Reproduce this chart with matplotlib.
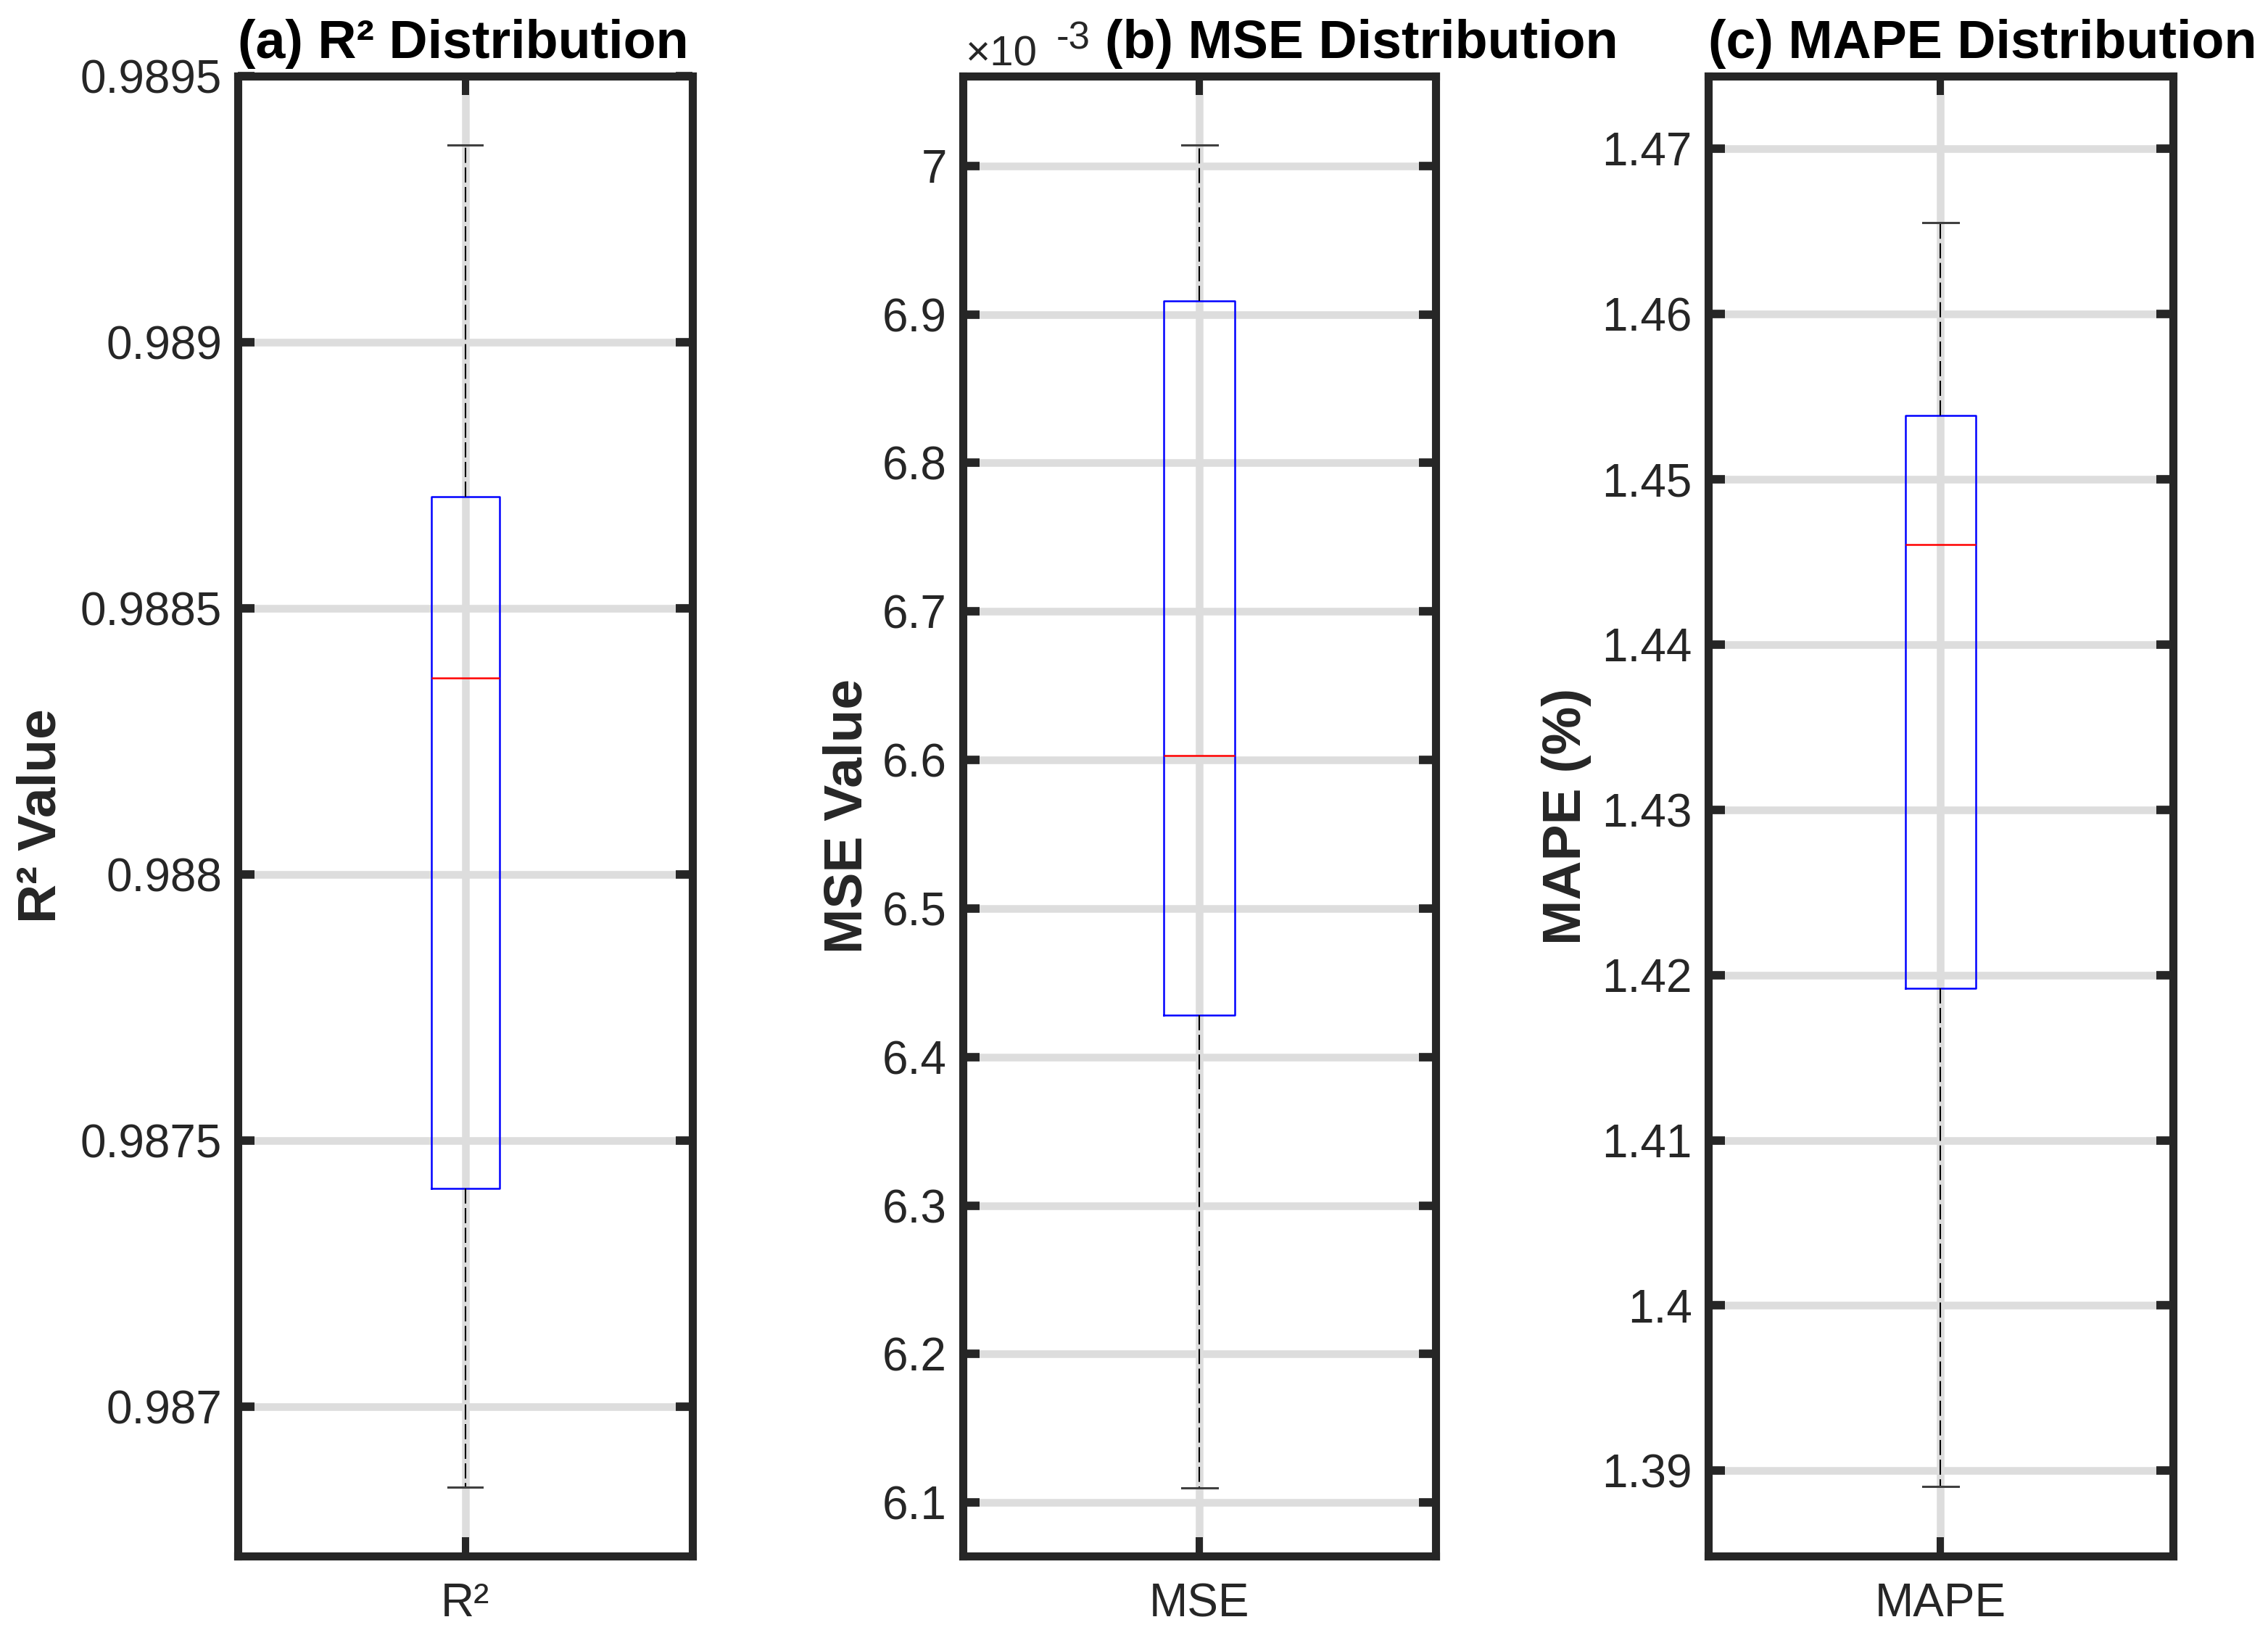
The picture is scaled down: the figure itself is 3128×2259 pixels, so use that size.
import matplotlib
matplotlib.use('Agg')
import matplotlib.pyplot as plt
import numpy as np
from matplotlib.ticker import FuncFormatter

plt.rcParams['font.family'] = ['Liberation Sans', 'DejaVu Sans']

# box statistics: lower whisker, Q1, median, Q3, upper whisker
r2_stats = [0.98685, 0.98741, 0.98837, 0.98871, 0.98937]
mse_stats = [6.110e-3, 6.428e-3, 6.603e-3, 6.909e-3, 7.014e-3]
mape_stats = [1.38904, 1.41921, 1.44604, 1.45385, 1.46554]

labels = ['R²', 'MSE', 'MAPE']
titles = ['(a) R² Distribution', '(b) MSE Distribution', '(c) MAPE Distribution']
ylabels = ['R² Value', 'MSE Value', 'MAPE (%)']

r2_ticks = [0.987, 0.9875, 0.988, 0.9885, 0.989, 0.9895]
mse_ticks = [6.1e-3, 6.2e-3, 6.3e-3, 6.4e-3, 6.5e-3, 6.6e-3, 6.7e-3, 6.8e-3, 6.9e-3, 7.0e-3]
mape_ticks = [1.39, 1.40, 1.41, 1.42, 1.43, 1.44, 1.45, 1.46, 1.47]

ylims = [(0.98672, 0.98950), (6.064e-3, 7.0604e-3), (1.38484, 1.47438)]

dark = '#262626'
fig = plt.figure(figsize=(15.64, 11.295), dpi=200)

# axes boxes in figure fractions
boxes = [(0.1049, 0.0500, 0.2004, 0.9035),
         (0.4246, 0.0500, 0.2084, 0.9035),
         (0.7532, 0.0500, 0.2049, 0.9035)]
ylab_x = [-0.402, -0.2147, -0.2746]
title_x = [0.0, 0.3006, 0.0]

all_stats = [r2_stats, mse_stats, mape_stats]
all_ticks = [r2_ticks, mse_ticks, mape_ticks]

for i in range(3):
    ax = fig.add_axes(boxes[i])
    s = all_stats[i]
    st = [dict(whislo=s[0], q1=s[1], med=s[2], q3=s[3], whishi=s[4], fliers=[], label=labels[i])]
    ax.bxp(st, positions=[1], widths=0.15, capwidths=0.075, showfliers=False,
           boxprops=dict(color='blue', linewidth=0.9),
           medianprops=dict(color='red', linewidth=0.9),
           whiskerprops=dict(color='black', linewidth=0.75, linestyle=(0, (10, 3))),
           capprops=dict(color='#404040', linewidth=1.1))
    ax.set_xlim(0.5, 1.5)
    ax.set_ylim(*ylims[i])
    ax.set_yticks(all_ticks[i])
    if i == 1:
        ax.yaxis.set_major_formatter(FuncFormatter(lambda v, p: '%g' % round(v * 1e3, 6)))
    else:
        ax.yaxis.set_major_formatter(FuncFormatter(lambda v, p: '%g' % round(v, 6)))

    ax.set_axisbelow(True)
    ax.yaxis.grid(True, color='#dddddd', linewidth=3.8)
    ax.xaxis.grid(True, color='#dddddd', linewidth=3.8)
    for sp in ax.spines.values():
        sp.set_linewidth(4.0)
        sp.set_color(dark)
    ax.tick_params(axis='y', direction='in', left=True, right=True, length=8.3,
                   width=4.2, color=dark, labelcolor=dark, labelsize=23, pad=8)
    ax.tick_params(axis='x', direction='in', bottom=True, top=True, length=9.4,
                   width=3.6, color=dark, labelcolor=dark, labelsize=23, pad=13)

    ax.set_ylabel(ylabels[i], fontsize=27, fontweight='bold', color=dark,
                  va='baseline', rotation_mode='anchor')
    ax.yaxis.set_label_coords(ylab_x[i], 0.5)

    t = ax.set_title(titles[i], loc='left', fontsize=26.5, fontweight='bold',
                     color='black', pad=9)
    t.set_x(title_x[i])

    if i == 1:
        ax.annotate('×10', xy=(0.006, 1.0), xycoords='axes fraction',
                    xytext=(0, 5.4), textcoords='offset points',
                    ha='left', va='baseline', fontsize=21, color=dark)
        ax.annotate('-3', xy=(0.197, 1.0), xycoords='axes fraction',
                    xytext=(0, 13.5), textcoords='offset points',
                    ha='left', va='baseline', fontsize=19, color=dark)

fig.savefig('out.png', dpi=200)
